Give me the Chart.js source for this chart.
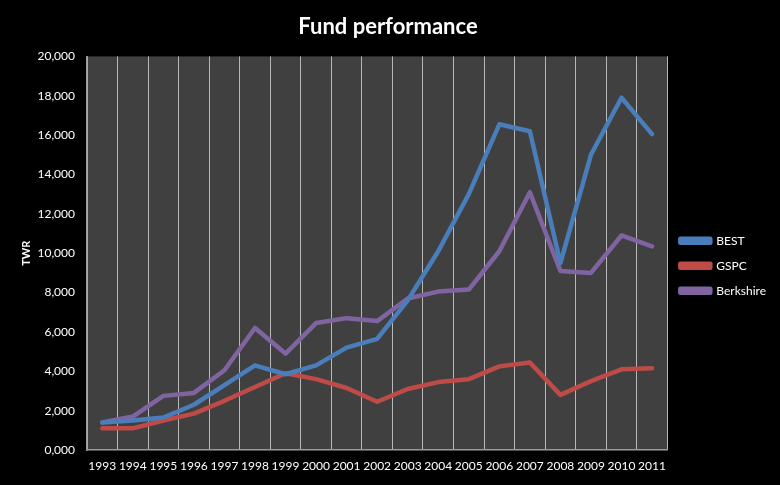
<!DOCTYPE html>
<html>
<head>
<meta charset="utf-8">
<script src="https://cdn.jsdelivr.net/npm/chart.js@4"></script>
<style>
  html, body { margin: 0; padding: 0; background: #000; }
  #wrap { width: 780px; height: 485px; }
</style>
</head>
<body>
<div id="wrap"><canvas id="fundChart" width="780" height="485"></canvas></div>
<script>
// chart data
const years = ['1993', '1994', '1995', '1996', '1997', '1998', '1999', '2000', '2001', '2002',
  '2003', '2004', '2005', '2006', '2007', '2008', '2009', '2010', '2011'];
const best = [1400, 1500, 1650, 2300, 3300, 4300, 3850, 4300, 5200, 5650,
  7600, 10100, 13000, 16550, 16200, 9500, 15000, 17900, 16050];
const gspc = [1100, 1100, 1500, 1850, 2500, 3200, 3900, 3600, 3150, 2450,
  3100, 3450, 3600, 4250, 4450, 2800, 3500, 4100, 4150];
const berkshire = [1400, 1700, 2750, 2900, 4050, 6200, 4900, 6450, 6700, 6550,
  7700, 8050, 8150, 10100, 13100, 9100, 9000, 10900, 10350];
const yTicks = { min: 0, max: 20000, step: 2000 };

Chart.defaults.color = '#ffffff';
Chart.defaults.font.family = 'Lato, "Open Sans", sans-serif';
Chart.defaults.font.size = 12;

// gray plot background like the excel chart
const plotBg = {
  id: 'plotBg',
  beforeDraw(chart) {
    const { ctx, chartArea: a } = chart;
    ctx.save();
    ctx.fillStyle = '#404040';
    ctx.fillRect(a.left, a.top, a.right - a.left, a.bottom - a.top);
    ctx.restore();
  }
};

function line(label, data, color) {
  return {
    label: label,
    data: data,
    borderColor: color,
    backgroundColor: color,
    borderWidth: 4.5,
    borderCapStyle: 'round',
    borderJoinStyle: 'round',
    pointRadius: 0,
    tension: 0,
    fill: false
  };
}

new Chart(document.getElementById('fundChart').getContext('2d'), {
  type: 'line',
  data: {
    labels: years,
    datasets: [
      line('BEST', best, '#4a7ebb'),
      line('GSPC', gspc, '#be4b48'),
      line('Berkshire', berkshire, '#8064a2')
    ]
  },
  options: {
    responsive: false,
    animation: false,
    layout: { padding: { left: 0, right: 4, top: 0, bottom: 0 } },
    plugins: {
      title: {
        display: true,
        text: 'Fund performance',
        color: '#ffffff',
        font: { size: 22, weight: 'bold' },
        padding: { top: 14, bottom: 16 }
      },
      legend: {
        position: 'right',
        // empty title just pushes the items down a bit
        title: { display: true, text: ' ', padding: { top: 16, bottom: 16 } },
        labels: {
          color: '#ffffff',
          boxWidth: 30,
          boxHeight: 4,
          padding: 13,
          font: { size: 12 }
        }
      },
      tooltip: { enabled: false }
    },
    scales: {
      x: {
        offset: true,
        grid: { display: true, offset: true, color: '#b8b8b8', lineWidth: 1, drawTicks: false },
        border: { display: true, color: '#9a9a9a', width: 1.5 },
        ticks: { color: '#ffffff', maxRotation: 0, autoSkip: false, padding: 9 },
        afterFit(scale) { scale.height = 35; }
      },
      y: {
        min: yTicks.min,
        max: yTicks.max,
        grid: { display: false, drawTicks: false },
        border: { display: true, color: '#9a9a9a', width: 1.5 },
        ticks: {
          stepSize: yTicks.step,
          color: '#ffffff',
          padding: 12,
          callback: v => v === 0 ? '0,000' : v.toLocaleString('en-US')
        },
        title: {
          display: true,
          text: 'TWR',
          color: '#ffffff',
          font: { size: 11, weight: 'bold' },
          padding: { top: 20, bottom: 0 }
        },
        afterFit(scale) { scale.width = 87; }
      }
    }
  },
  plugins: [plotBg]
});
</script>
</body>
</html>
